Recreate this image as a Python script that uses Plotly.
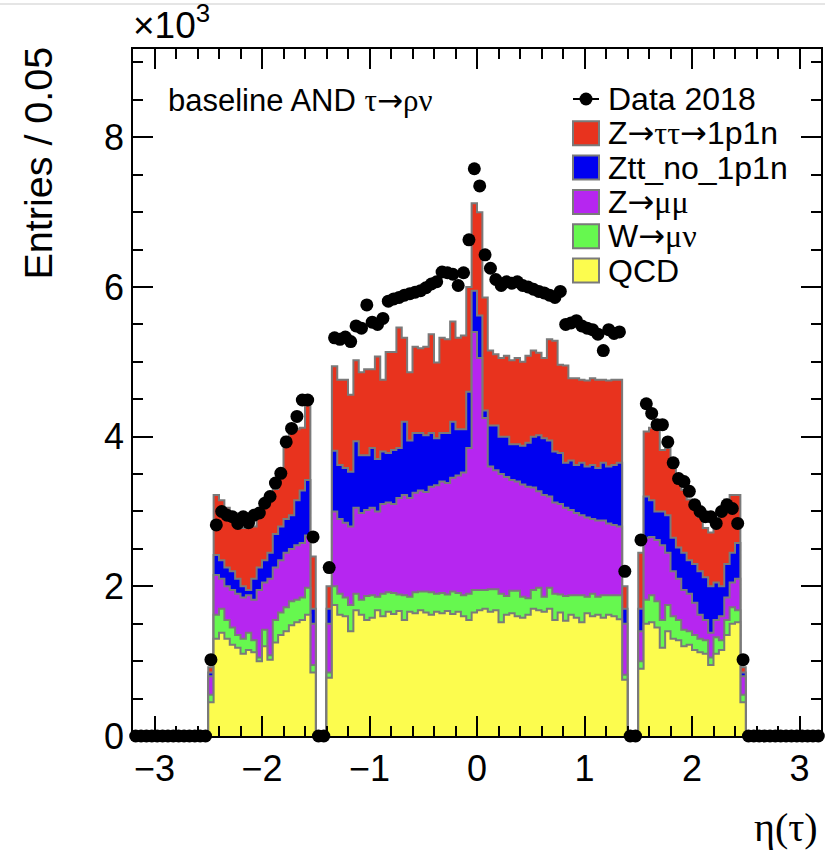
import numpy as np
import plotly.graph_objects as go

# ---------------- data (entries in units of 10^3 per 0.05 bin) ----------------
bin_width = 0.05
edges = np.round(np.arange(-3.2, 3.2 + 1e-9, bin_width), 3)   # 129 edges, 128 bins
centers = edges[:-1] + bin_width / 2

zeros_fwd = [0.0] * 14     # |eta| > 2.5
zeros_crack = [0.0] * 2    # crack region bins

# QCD
qcd_left = [0.45, 1.30, 1.38, 1.30, 1.22, 1.18, 1.10, 1.15, 1.12, 1.00,
            1.20, 1.02, 1.25, 1.35, 1.40, 1.48, 1.52, 1.55, 1.62, 0.85]
qcd_central = [0.78, 1.75, 1.62, 1.60, 1.40, 1.68, 1.62, 1.55, 1.58, 1.68,
               1.60, 1.66, 1.63, 1.67, 1.55, 1.66, 1.64, 1.68, 1.65, 1.62,
               1.66, 1.64, 1.67, 1.63, 1.66, 1.60, 1.55, 1.65,
               1.68, 1.70, 1.66, 1.68, 1.52, 1.62, 1.64, 1.60, 1.58, 1.62,
               1.70, 1.68, 1.66, 1.70, 1.55, 1.65, 1.54, 1.62, 1.58, 1.52,
               1.64, 1.60, 1.62, 1.58, 1.62, 1.60, 1.56, 0.75]
qcd_right = [0.90, 1.50, 1.52, 1.45, 1.18, 1.40, 1.30, 1.28, 1.20, 1.22,
             1.15, 1.12, 1.10, 0.95, 1.10, 1.15, 1.35, 1.50, 1.52, 0.45]

# W -> mu nu
wmunu_left = [0.10, 0.32, 0.32, 0.25, 0.23, 0.17, 0.20, 0.23, 0.16, 0.05,
              0.22, 0.06, 0.30, 0.30, 0.32, 0.32, 0.30, 0.30, 0.36, 0.10]
wmunu_central = [0.07, 0.25, 0.28, 0.25, 0.35, 0.22, 0.20, 0.32, 0.30, 0.18,
                 0.30, 0.26, 0.28, 0.22, 0.33, 0.20, 0.28, 0.25, 0.28, 0.30,
                 0.24, 0.27, 0.22, 0.30, 0.25, 0.28, 0.35, 0.30,
                 0.27, 0.25, 0.30, 0.28, 0.38, 0.25, 0.30, 0.34, 0.28, 0.22,
                 0.25, 0.30, 0.20, 0.28, 0.35, 0.24, 0.33, 0.26, 0.30, 0.36,
                 0.22, 0.30, 0.24, 0.30, 0.26, 0.28, 0.32, 0.07]
wmunu_right = [0.10, 0.32, 0.36, 0.35, 0.37, 0.35, 0.30, 0.27, 0.22, 0.18,
               0.20, 0.18, 0.18, 0.10, 0.22, 0.13, 0.20, 0.22, 0.16, 0.10]

# Z -> mu mu
zmumu_left = [0.25, 0.53, 0.40, 0.45, 0.50, 0.55, 0.55, 0.50, 0.54, 0.90,
              0.63, 1.02, 0.70, 0.70, 0.73, 0.70, 0.73, 0.73, 0.70, 0.55]
zmumu_central = [0.65, 1.00, 1.00, 1.00, 1.05, 1.15, 1.16, 1.15, 1.17, 1.14,
                 1.20, 1.20, 1.19, 1.29, 1.34, 1.32, 1.33, 1.35, 1.33, 1.41,
                 1.45, 1.49, 1.49, 1.52, 1.57, 1.64, 1.95, 3.45,
                 3.10, 2.30, 1.64, 1.59, 1.60, 1.59, 1.48, 1.46, 1.50, 1.49,
                 1.37, 1.29, 1.36, 1.22, 1.22, 1.21, 1.18, 1.14, 1.10, 1.07,
                 1.06, 1.00, 1.02, 1.00, 0.96, 0.94, 0.92, 0.68]
zmumu_right = [0.40, 0.83, 0.78, 0.82, 1.00, 0.70, 0.60, 0.55, 0.53, 0.50,
               0.43, 0.32, 0.27, 0.33, 0.23, 0.32, 0.30, 0.33, 0.42, 0.25]

# Ztt_no_1p1n
ztt_no_left = [0.05, 0.27, 0.25, 0.25, 0.25, 0.20, 0.15, 0.07, 0.28, 0.30,
               0.30, 0.35, 0.45, 0.45, 0.45, 0.45, 0.60, 0.70, 0.74, 0.20]
ztt_no_central = [0.20, 0.81, 0.72, 0.73, 0.73, 0.89, 0.77, 0.73, 0.80, 0.70,
                  0.70, 0.66, 0.72, 0.67, 0.98, 0.77, 0.80, 0.77, 0.76, 0.72,
                  0.63, 0.65, 0.67, 0.75, 0.62, 0.58, 0.75, 0.55,
                  0.57, 0.10, 0.55, 0.60, 0.50, 0.54, 0.48, 0.50, 0.52, 0.59,
                  0.68, 0.75, 0.76, 0.75, 0.68, 0.68, 0.60, 0.66, 0.64, 0.70,
                  0.68, 0.72, 0.70, 0.77, 0.76, 0.80, 0.85, 0.20]
ztt_no_right = [0.30, 0.55, 0.49, 0.38, 0.45, 0.50, 0.45, 0.42, 0.50, 0.45,
                0.52, 0.58, 0.57, 0.62, 0.50, 0.40, 0.45, 0.40, 0.48, 0.05]

# Z -> tau tau -> 1p1n
ztt_1p1n_left = [0.07, 0.80, 0.80, 0.80, 0.75, 0.75, 0.78, 0.87, 0.70, 0.70,
                 0.70, 0.75, 0.60, 0.65, 1.10, 1.10, 0.95, 0.84, 1.00, 0.70]
ztt_1p1n_central = [0.30, 1.13, 1.14, 1.18, 1.03, 1.08, 1.11, 1.15, 1.05, 1.37,
                    0.96, 1.35, 1.31, 1.61, 1.12, 0.91, 1.15, 1.13, 1.18, 1.32,
                    1.01, 1.27, 1.25, 1.34, 1.22, 1.25, 1.40, 1.17,
                    1.38, 1.51, 1.00, 0.95, 1.05, 1.08, 1.12, 1.15, 1.12, 1.16,
                    1.15, 1.10, 1.07, 1.35, 1.48, 1.18, 1.30, 1.10, 1.16, 1.11,
                    1.15, 1.16, 1.18, 1.11, 1.15, 1.14, 1.11, 0.30]
ztt_1p1n_right = [0.75, 0.87, 0.97, 1.10, 0.82, 0.90, 0.95, 0.88, 0.84, 0.81,
                  0.77, 0.73, 0.66, 0.72, 0.75, 0.98, 0.86, 0.77, 0.64, 0.07]

# Data 2018
data_left = [1.02, 2.82, 3.00, 2.95, 2.93, 2.84, 2.93, 2.85, 2.95, 2.98,
             3.11, 3.20, 3.38, 3.51, 3.93, 4.11, 4.27, 4.49, 4.49, 2.66]
data_central = [2.25, 5.32, 5.30, 5.33, 5.27, 5.48, 5.45, 5.76, 5.53, 5.50,
                5.58, 5.81, 5.84, 5.86, 5.89, 5.91, 5.93, 5.95, 5.99, 6.04,
                6.07, 6.20, 6.19, 6.17, 6.02, 6.19, 6.63, 7.58,
                7.35, 6.43, 6.25, 6.10, 6.02, 6.07, 6.05, 6.07, 6.02, 6.00,
                5.97, 5.94, 5.92, 5.89, 5.86, 5.94, 5.50, 5.52, 5.55, 5.48,
                5.45, 5.43, 5.37, 5.15, 5.43, 5.38, 5.40, 2.20]
data_right = [2.62, 4.44, 4.31, 4.16, 4.16, 3.93, 3.65, 3.44, 3.40, 3.27,
              3.09, 3.00, 2.93, 2.93, 2.84, 3.00, 3.09, 3.04, 2.84, 1.02]


def full(left, central, right):
    return np.array(zeros_fwd + left + zeros_crack + central + zeros_crack + right + zeros_fwd)


qcd = full(qcd_left, qcd_central, qcd_right)
wmunu = full(wmunu_left, wmunu_central, wmunu_right)
zmumu = full(zmumu_left, zmumu_central, zmumu_right)
ztt_no = full(ztt_no_left, ztt_no_central, ztt_no_right)
ztt_1p1n = full(ztt_1p1n_left, ztt_1p1n_central, ztt_1p1n_right)
data = full(data_left, data_central, data_right)

processes = ["QCD", "W→μν", "Z→μμ", "Ztt_no_1p1n", "Z→ττ→1p1n"]
colors = ["#fcfc4e", "#66f84f", "#b626f0", "#0000f0", "#e8331e"]
outline = "#7a7a7a"

stack = np.cumsum(np.vstack([qcd, wmunu, zmumu, ztt_no, ztt_1p1n]), axis=0)

fig = go.Figure()

# stacked histograms: draw the largest cumulative first (ROOT THStack style)
for i in reversed(range(len(processes))):
    yv = np.append(stack[i], stack[i][-1])
    fig.add_trace(go.Scatter(
        x=edges, y=yv, mode="lines", line=dict(shape="hv", color=outline, width=2),
        fill="tozeroy", fillcolor=colors[i], name=processes[i], showlegend=False,
        hoverinfo="skip"))

fig.add_trace(go.Scatter(
    x=centers, y=data, mode="markers", name="Data 2018",
    marker=dict(color="black", size=13, line=dict(width=0)),
    cliponaxis=False, showlegend=False))

# ---------------- layout ----------------
L, R, T, B = 133, 4, 49, 121
W, H = 825, 857
pw, ph = W - L - R, H - T - B


def px(xp):
    return (xp - L) / pw


def py(yp):
    return (H - B - yp) / ph


font_main = "Liberation Sans, Arial, Helvetica, sans-serif"
serif = "Liberation Serif, Times New Roman, serif"
ARROW = "<span style='font-family:DejaVu Sans'>→</span>"


def greek(s):
    return "<span style='font-family:Liberation Serif'>" + s + "</span>"


axis_common = dict(
    showline=True, linecolor="black", linewidth=1.5, mirror="ticks",
    ticks="inside", ticklen=20, tickwidth=1.5, tickcolor="black",
    showgrid=False, zeroline=False, automargin=False,
    tickfont=dict(family=font_main, size=36, color="black"),
)

fig.update_layout(
    width=W, height=H, autosize=False,
    margin=dict(l=L, r=R, t=T, b=B, pad=0),
    paper_bgcolor="white", plot_bgcolor="white",
    xaxis=dict(range=[-3.2, 3.2], dtick=1, tick0=0,
               minor=dict(ticks="inside", ticklen=10, dtick=0.2, tickwidth=1.5,
                          tickcolor="black"),
               **axis_common),
    yaxis=dict(range=[0, 9.18], dtick=2, tick0=0,
               minor=dict(ticks="inside", ticklen=10, dtick=0.5, tickwidth=1.5,
                          tickcolor="black"),
               **axis_common),
    showlegend=False,
)

annotations = []
shapes = []

# x 10^3
annotations.append(dict(xref="paper", yref="paper", x=px(131), y=py(48),
                        xanchor="left", yanchor="bottom", showarrow=False,
                        text="×10<sup>3</sup>",
                        font=dict(family=font_main, size=37, color="black")))
# y title
annotations.append(dict(xref="paper", yref="paper", x=px(37), y=py(45),
                        xanchor="center", yanchor="top", showarrow=False,
                        textangle=-90, text="Entries / 0.05",
                        font=dict(family=font_main, size=39.5, color="black")))
# x title
annotations.append(dict(xref="paper", yref="paper", x=px(820), y=py(852),
                        xanchor="right", yanchor="bottom", showarrow=False,
                        text="η(τ)",
                        font=dict(family=serif, size=40, color="black")))
# selection label
annotations.append(dict(xref="paper", yref="paper", x=px(166), y=py(100),
                        xanchor="left", yanchor="middle", showarrow=False,
                        text="baseline AND " + greek("τ") + ARROW + greek("ρν"),
                        font=dict(family=font_main, size=31, color="black")))

# legend (manual, ROOT style)
leg_x0, leg_x1 = 573, 599
text_x = 606
row0 = 99
pitch = 34.3
legend_labels = ["Data 2018",
                 "Z" + ARROW + greek("ττ") + ARROW + "1p1n",
                 "Ztt_no_1p1n",
                 "Z" + ARROW + greek("μμ"),
                 "W" + ARROW + greek("μν"),
                 "QCD"]
legend_fill = [None, colors[4], colors[3], colors[2], colors[1], colors[0]]
for r, (lab, col) in enumerate(zip(legend_labels, legend_fill)):
    yc = row0 + r * pitch
    if col is None:
        shapes.append(dict(type="line", xref="paper", yref="paper",
                           x0=px(leg_x0), x1=px(leg_x1), y0=py(yc), y1=py(yc),
                           line=dict(color="black", width=2)))
        shapes.append(dict(type="circle", xref="paper", yref="paper",
                           x0=px((leg_x0 + leg_x1) / 2 - 6.5), x1=px((leg_x0 + leg_x1) / 2 + 6.5),
                           y0=py(yc - 6.5), y1=py(yc + 6.5),
                           fillcolor="black", line=dict(color="black", width=0)))
    else:
        shapes.append(dict(type="rect", xref="paper", yref="paper",
                           x0=px(leg_x0), x1=px(leg_x1), y0=py(yc - 12), y1=py(yc + 12),
                           fillcolor=col, line=dict(color=outline, width=2)))
    annotations.append(dict(xref="paper", yref="paper", x=px(text_x), y=py(yc),
                            xanchor="left", yanchor="middle", showarrow=False,
                            text=lab, font=dict(family=font_main, size=32, color="black")))

# faint page border line at the very top
shapes.append(dict(type="line", xref="paper", yref="paper",
                   x0=px(0), x1=px(W), y0=py(4), y1=py(4),
                   line=dict(color="#dcdcdc", width=1.5)))

fig.update_layout(annotations=annotations, shapes=shapes)

fig.write_html("out.html",
               config={"displayModeBar": False},
               post_script="document.body.style.margin='0px';"
                           "document.body.style.padding='0px';"
                           "document.body.style.overflow='hidden';")
